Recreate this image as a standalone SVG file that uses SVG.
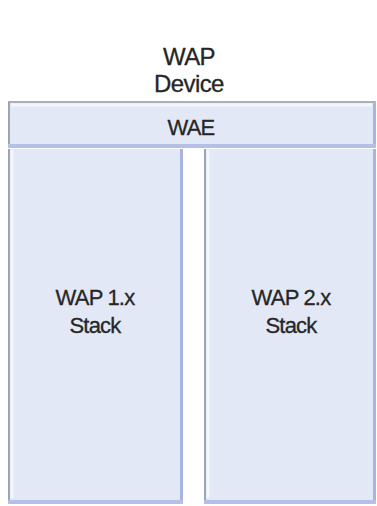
<svg xmlns="http://www.w3.org/2000/svg" width="377" height="506" viewBox="0 0 377 506">
<style>
  .lbl { font-family: "Liberation Sans", Arial, sans-serif; fill: #262626; text-anchor: middle; stroke: #262626; stroke-width: 0.3; }
  .title { font-size: 24px; letter-spacing: -0.6px; }
  .in { font-size: 22px; letter-spacing: -0.8px; }
  .box { fill: #e3e8f6; }
  .hl { stroke: #f4f6fc; stroke-width: 3; fill: none; }
  .edgeL { stroke: #9ea4b0; stroke-width: 2; }
  .edgeT { stroke: #a8b0b8; stroke-width: 2; }
  .edgeR { stroke: #a9b5dc; stroke-width: 3; }
  .edgeB { stroke: #b4c0e6; stroke-width: 4; }
</style>
<rect width="377" height="506" fill="#ffffff"/>
<g id="title">
  <text class="lbl title" x="189" y="65">WAP</text>
  <text class="lbl title" x="189" y="92">Device</text>
</g>
<g id="wae">
  <rect class="box" x="8" y="102" width="368" height="45"/>
  <line class="hl" x1="11" y1="105" x2="372" y2="105"/>
  <line class="edgeT" x1="8" y1="102" x2="376" y2="102"/>
  <line class="edgeL" x1="9" y1="102" x2="9" y2="147"/>
  <line class="edgeR" x1="374.5" y1="102" x2="374.5" y2="147"/>
  <line class="edgeB" x1="8" y1="146" x2="376" y2="146"/>
  <text class="lbl in" x="191" y="135">WAE</text>
</g>
<g id="wap1">
  <rect class="box" x="8" y="149" width="175" height="354"/>
  <line class="hl" x1="12" y1="150" x2="12" y2="498"/>
  <line class="edgeL" x1="9" y1="149" x2="9" y2="503"/>
  <line class="edgeR" x1="181.5" y1="149" x2="181.5" y2="503"/>
  <line class="edgeB" x1="8" y1="502" x2="183" y2="502"/>
  <text class="lbl in" x="95" y="305">WAP 1.x</text>
  <text class="lbl in" x="95" y="333">Stack</text>
</g>
<g id="wap2">
  <rect class="box" x="204" y="149" width="172" height="354"/>
  <line class="hl" x1="208" y1="150" x2="208" y2="498"/>
  <line class="edgeL" x1="205" y1="149" x2="205" y2="503"/>
  <line class="edgeR" x1="374.5" y1="149" x2="374.5" y2="503"/>
  <line class="edgeB" x1="204" y1="502" x2="376" y2="502"/>
  <text class="lbl in" x="291" y="305">WAP 2.x</text>
  <text class="lbl in" x="291" y="333">Stack</text>
</g>
<g id="connectors"></g>
</svg>
